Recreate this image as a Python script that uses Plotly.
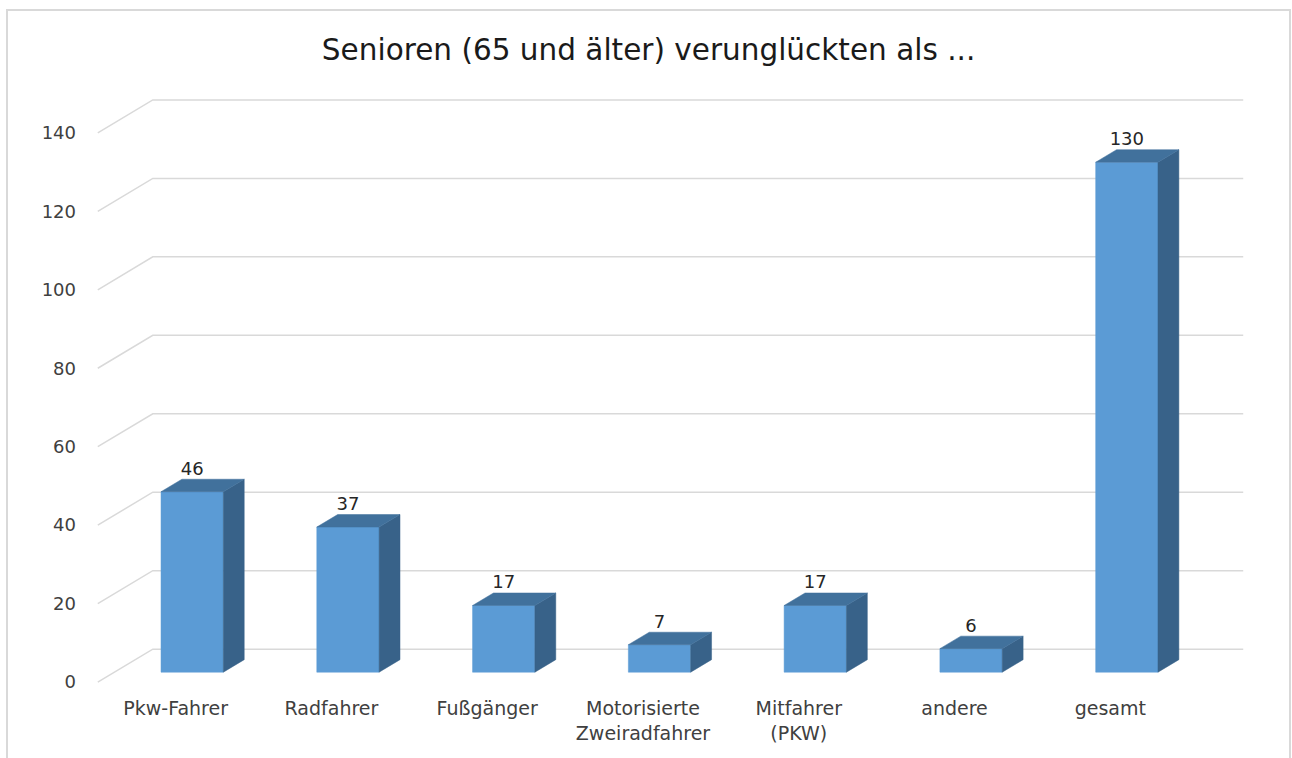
import plotly.graph_objects as go

# data
CATEGORIES = [
    'Pkw-Fahrer', 'Radfahrer', 'Fußgänger', 'Motorisierte<br>Zweiradfahrer',
    'Mitfahrer<br>(PKW)', 'andere', 'gesamt',
]
VALUES = [46, 37, 17, 7, 17, 6, 130]
Y_TICKS = [0, 20, 40, 60, 80, 100, 120, 140]
TITLE = 'Senioren (65 und älter) verunglückten als ...'

# pseudo 3d geometry (in axis units)
DX = 0.353          # shift back wall -> front plane, x
DY = 8.4            # shift back wall -> front plane, y
FRONT = 0.70        # depth fraction of bar front face
BACK = 0.32         # depth fraction of bar back face
BAR_W = 0.4

FRONT_COLOR = '#5b9bd5'
SIDE_COLOR = '#386289'
TOP_COLOR = '#41719c'
GRID_COLOR = '#d9d9d9'
TEXT_COLOR = '#404040'
FONT = 'DejaVu Sans'


def join_polys(polys):
    xs, ys = [], []
    for poly in polys:
        for px, py in poly:
            xs.append(px)
            ys.append(py)
        xs.append(poly[0][0])
        ys.append(poly[0][1])
        xs.append(None)
        ys.append(None)
    return xs, ys


def grid_lines():
    xs, ys = [], []
    for v in Y_TICKS:
        xs += [-0.5 - DX, -0.5, len(CATEGORIES) - 0.5, None]
        ys += [v - DY, v, v, None]
    return xs, ys


def bar_faces():
    front, side, top = [], [], []
    for i, v in enumerate(VALUES):
        fx, fy = -FRONT * DX, -FRONT * DY
        bx, by = -BACK * DX, -BACK * DY
        l, r = i - BAR_W / 2, i + BAR_W / 2
        front.append([(l + fx, fy), (r + fx, fy), (r + fx, v + fy), (l + fx, v + fy)])
        side.append([(r + fx, fy), (r + bx, by), (r + bx, v + by), (r + fx, v + fy)])
        top.append([(l + fx, v + fy), (r + fx, v + fy), (r + bx, v + by), (l + bx, v + by)])
    return front, side, top


fig = go.Figure()

gx, gy = grid_lines()
fig.add_trace(go.Scatter(
    x=gx, y=gy, mode='lines',
    line={'color': GRID_COLOR, 'width': 1.5},
    hoverinfo='skip', cliponaxis=False,
))

front, side, top = bar_faces()
for polys, color in ((front, FRONT_COLOR), (side, SIDE_COLOR), (top, TOP_COLOR)):
    px, py = join_polys(polys)
    fig.add_trace(go.Scatter(
        x=px, y=py, mode='lines', fill='toself', fillcolor=color,
        line={'color': color, 'width': 0.5},
        hoverinfo='skip',
    ))

# value labels above each bar
fig.add_trace(go.Scatter(
    x=[i - FRONT * DX for i in range(len(VALUES))],
    y=[v - BACK * DY for v in VALUES],
    mode='text',
    text=[str(v) for v in VALUES],
    textposition='top center',
    textfont={'family': FONT, 'size': 18, 'color': '#262626'},
    hoverinfo='skip', cliponaxis=False,
))

fig.update_layout(
    width=1292, height=758,
    margin={'l': 90, 'r': 41, 't': 96, 'b': 72},
    paper_bgcolor='white', plot_bgcolor='white',
    showlegend=False,
    title={
        'text': TITLE, 'x': 0.502, 'xref': 'container', 'xanchor': 'center',
        'y': 0.934, 'yanchor': 'middle',
        'font': {'family': FONT, 'size': 29.5, 'color': '#1a1a1a'},
    },
    font={'family': FONT, 'size': 19, 'color': TEXT_COLOR},
    shapes=[{
        'type': 'rect', 'xref': 'paper', 'yref': 'paper',
        'x0': -0.0715, 'x1': 1.0336, 'y0': -0.2, 'y1': 1.1458,
        'line': {'color': '#d9d9d9', 'width': 2},
        'layer': 'below',
    }],
)

fig.update_xaxes(
    range=[-0.5 - DX - 0.05, len(CATEGORIES) - 0.45],
    tickvals=[i - DX for i in range(len(CATEGORIES))],
    ticktext=CATEGORIES,
    showgrid=False, zeroline=False, showline=False, ticks='',
    ticklabelstandoff=9,
)
fig.update_yaxes(
    range=[-DY - 1, Y_TICKS[-1] + 1],
    tickvals=[v - DY for v in Y_TICKS],
    ticktext=[str(v) for v in Y_TICKS],
    showgrid=False, zeroline=False, showline=False, ticks='',
    ticklabelstandoff=13, tickfont={'size': 18},
)

fig.write_html(
    'out.html',
    config={'displayModeBar': False},
    post_script="document.body.style.margin='0';",
)
